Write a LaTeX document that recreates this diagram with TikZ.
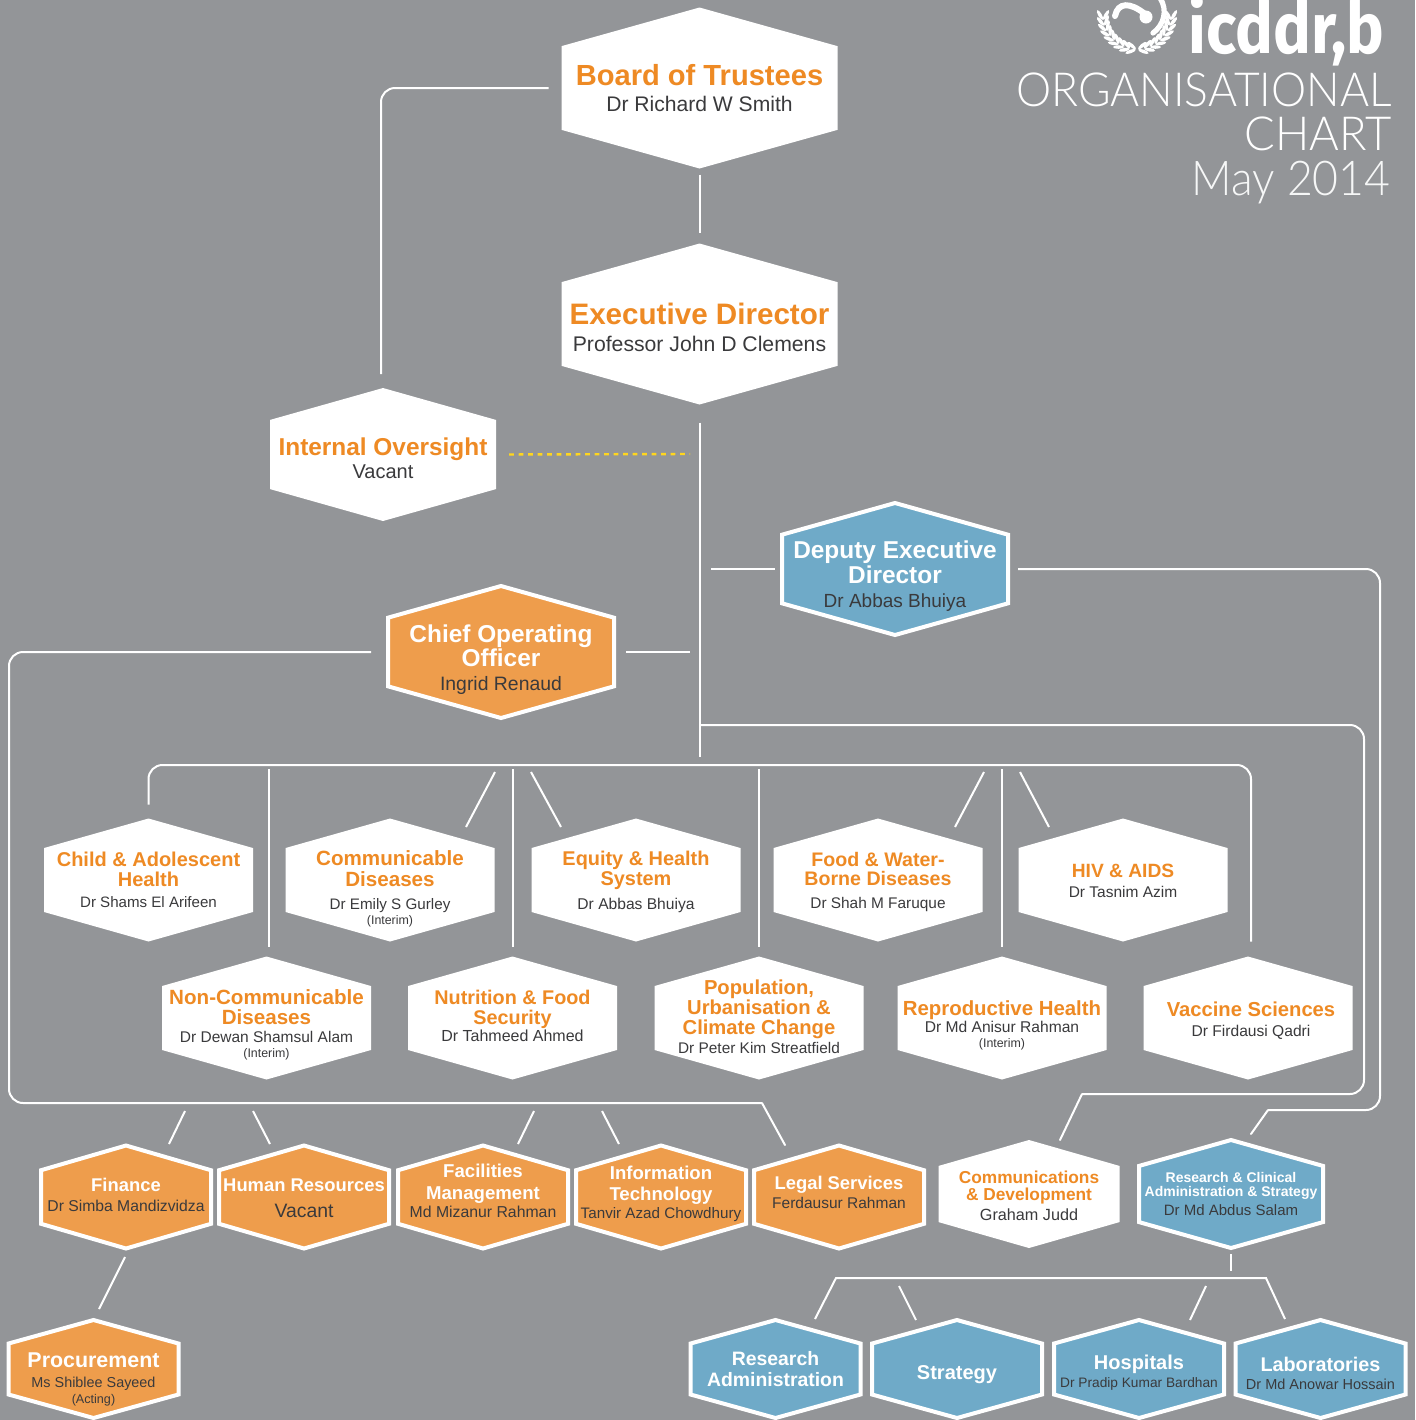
\documentclass[tikz,border=0pt]{standalone}
\usepackage{fontspec}
\usepackage{graphicx}
\setmainfont{Liberation Sans}
\newfontfamily\lightfont{Lato Light}
\newfontfamily\logofont{Fira Sans}

\definecolor{chartgrey}{HTML}{939598}
\definecolor{headorange}{HTML}{EE8A24}
\definecolor{fillorange}{HTML}{EE9D4C}
\definecolor{fillblue}{HTML}{6FAAC8}
\definecolor{dashyellow}{HTML}{FFD61E}
\definecolor{nametext}{HTML}{3A3A3C}

\newdimen\hexleft \newdimen\hexright \newdimen\hexlow \newdimen\hexhigh \newdimen\hexmid \newdimen\hexcut
\makeatletter
\pgfdeclareshape{hexa}{
  \inheritsavedanchors[from=rectangle]
  \inheritanchorborder[from=rectangle]
  \inheritanchor[from=rectangle]{center}
  \inheritanchor[from=rectangle]{north}
  \inheritanchor[from=rectangle]{south}
  \inheritanchor[from=rectangle]{east}
  \inheritanchor[from=rectangle]{west}
  \backgroundpath{
    \southwest \hexleft=\pgf@x \hexlow=\pgf@y
    \northeast \hexright=\pgf@x \hexhigh=\pgf@y
    \hexmid=.5\hexleft \advance\hexmid by .5\hexright
    \hexcut=\hexhigh \advance\hexcut by -\hexlow \hexcut=.24\hexcut
    \pgfpathmoveto{\pgfqpoint{\hexmid}{\hexhigh}}
    \pgfpathlineto{\pgfpoint{\hexright}{\hexhigh-\hexcut}}
    \pgfpathlineto{\pgfpoint{\hexright}{\hexlow+\hexcut}}
    \pgfpathlineto{\pgfqpoint{\hexmid}{\hexlow}}
    \pgfpathlineto{\pgfpoint{\hexleft}{\hexlow+\hexcut}}
    \pgfpathlineto{\pgfpoint{\hexleft}{\hexhigh-\hexcut}}
    \pgfpathclose
  }
}
\makeatother

\newcommand{\headorange}[2]{{\fontsize{#1}{#1}\selectfont\bfseries\color{headorange}#2\par}}
\newcommand{\headwhite}[2]{{\fontsize{#1}{#1}\selectfont\bfseries\color{white}#2\par}}
\newcommand{\whois}[3]{{\fontsize{#1}{#2}\selectfont #3\par}}
\newcommand{\remark}[1]{{\fontsize{6.2}{7.5}\selectfont #1\par}}
\newcommand{\pushdown}[1]{\par\vspace*{-#1pt}}
\newcommand{\pushup}[1]{\par\vspace*{#1pt}}

\tikzset{
  hexbase/.style={shape=hexa, inner sep=0pt, outer sep=0pt, align=flush center, text=nametext},
  plainhex/.style={hexbase, fill=white},
  orangehex/.style={hexbase, fill=fillorange, draw=white, line width=2pt},
  bluehex/.style={hexbase, fill=fillblue, draw=white, line width=2pt},
  topsize/.style={text width=138pt, minimum height=80.5pt},
  oversize/.style={text width=113pt, minimum height=66.5pt},
  officersize/.style={text width=113pt, minimum height=66pt},
  unitsize/.style={text width=104.5pt, minimum height=61.5pt},
  dutysize/.style={text width=85pt, minimum height=51.5pt},
  widesize/.style={text width=92pt, minimum height=54pt},
  lowsize/.style={text width=85pt, minimum height=49pt},
  linkline/.style={draw=white, line width=1pt},
  bendline/.style={linkline, rounded corners=7pt},
  stubline/.style={linkline, line cap=round},
  dotline/.style={draw=dashyellow, line width=1.2pt, dash pattern=on 2.4pt off 2.35pt},
  titletext/.style={anchor=base east, text=white, inner sep=0pt}
}

\begin{document}
\begin{tikzpicture}[x=.5pt, y=-.5pt]
  \clip (0,0) rectangle (1415,1420);
  \fill [chartgrey] (0,0) rectangle (1415,1420);

  % logo
  \foreach \t in {0,10,...,80} {
    \fill [white, shift={({1137-37*cos(\t)},{15+37*sin(\t)})}, rotate={-60+\t}] (0,0) ellipse [x radius=5.5, y radius=1.8];
    \fill [white, shift={({1137-31*cos(\t)},{15+31*sin(\t)})}, rotate={-120+\t}] (0,0) ellipse [x radius=5.5, y radius=1.8];
    \fill [white, shift={({1137+37*cos(\t)},{15+37*sin(\t)})}, rotate={60-\t}] (0,0) ellipse [x radius=5.5, y radius=1.8];
    \fill [white, shift={({1137+31*cos(\t)},{15+31*sin(\t)})}, rotate={120-\t}] (0,0) ellipse [x radius=5.5, y radius=1.8];
  }
  \draw [white, line width=3pt, line cap=round] (1115,16) .. controls (1118,2) and (1130,2) .. (1145,14);
  \fill [white] (1146,17) circle (6.5);
  \draw [white, line width=2.6pt, line cap=round] (1160,-2) .. controls (1168,10) and (1164,25) .. (1153,33);
  \node [anchor=base east, text=white, inner sep=0pt, font=\logofont\bfseries\fontsize{41}{41}\selectfont] (logotext) at (1385,53) {\scalebox{.77}[.87]{icddr,b}};

  % title
  \node [titletext, font=\lightfont\fontsize{23.5}{23.5}\selectfont] (orgtitle) at (1392,106) {\scalebox{.945}[1]{ORGANISATIONAL}};
  \node [titletext, font=\lightfont\fontsize{23.5}{23.5}\selectfont] (charttitle) at (1392,150) {\scalebox{.966}[1]{CHART}};
  \node [titletext, text=white!92!chartgrey, font=\lightfont\fontsize{24}{24}\selectfont] (datetitle) at (1391,195) {\scalebox{.93}[1]{May 2014}};

  % top of the chart
  \node [plainhex, topsize] (board) at (699.5,88) {\headorange{14.55}{Board of Trustees}\whois{10.55}{13}{Dr Richard W Smith}};
  \node [plainhex, topsize] (exec) at (699.5,324) {\headorange{14.8}{Executive Director}\whois{10.6}{13.5}{Professor John D Clemens}\pushdown{3.5}};
  \node [plainhex, oversize] (oversight) at (383,454.5) {\headorange{12.2}{Internal Oversight}\whois{10}{11.5}{Vacant}\pushdown{4}};
  \node [bluehex, officersize] (deputy) at (895,569) {\headwhite{12.2}{Deputy Executive\\Director}\whois{9.5}{12}{Dr Abbas Bhuiya}\pushdown{7}};
  \node [orangehex, officersize] (coo) at (501,652) {\headwhite{12.2}{Chief Operating\\Officer}\whois{9.7}{12}{Ingrid Renaud}\pushdown{7.5}};

  % first row of divisions
  \node [plainhex, unitsize] (child) at (148.5,880) {\headorange{10}{Child \& Adolescent\\Health}\whois{7.55}{10.5}{Dr Shams El Arifeen}};
  \node [plainhex, unitsize] (comm) at (390,880) {\headorange{10.3}{Communicable\\Diseases}\whois{7.6}{11.5}{Dr Emily S Gurley}\remark{(Interim)}\pushdown{9}};
  \node [plainhex, unitsize] (equity) at (636,880) {\headorange{9.95}{Equity \& Health\\System}\whois{7.8}{12}{Dr Abbas Bhuiya}\pushdown{2}};
  \node [plainhex, unitsize] (food) at (878,880) {\headorange{9.8}{Food \& Water-\\Borne Diseases}\whois{7.7}{11.5}{Dr Shah M Faruque}\pushdown{2}};
  \node [plainhex, unitsize] (hiv) at (1123,880) {\headorange{9.6}{HIV \& AIDS}\whois{7.75}{10}{Dr Tasnim Azim}\pushdown{1}};

  % second row of divisions
  \node [plainhex, unitsize] (noncomm) at (266.5,1018) {\headorange{10.3}{Non-Communicable\\Diseases}\whois{7.75}{9}{Dr Dewan Shamsul Alam}\remark{(Interim)}\pushdown{7}};
  \node [plainhex, unitsize] (nutrition) at (512.5,1018) {\headorange{9.9}{Nutrition \& Food\\Security}\whois{8}{8.5}{Dr Tahmeed Ahmed}\pushup{2}};
  \node [plainhex, unitsize] (population) at (759,1018) {\headorange{10.1}{Population,\\Urbanisation \&\\Climate Change}\whois{7.7}{9.5}{Dr Peter Kim Streatfield}\pushup{1.5}};
  \node [plainhex, unitsize] (repro) at (1002,1018) {\headorange{10.2}{Reproductive Health}\whois{7.8}{8.5}{Dr Md Anisur Rahman}\remark{(Interim)}\pushdown{7}};
  \node [plainhex, unitsize] (vaccine) at (1248,1018) {\headorange{10.1}{\hspace*{3pt}Vaccine Sciences}\whois{7.8}{10}{\hspace*{3pt}Dr Firdausi Qadri}\pushdown{3}};

  % operations row
  \node [orangehex, dutysize] (finance) at (126,1197) {\headwhite{9.2}{Finance}\whois{7.85}{10}{Dr Simba Mandizvidza}\pushup{2}};
  \node [orangehex, dutysize] (hr) at (304,1197) {\headwhite{9.2}{Human Resources}\whois{9.7}{13}{Vacant}\pushdown{1}};
  \node [orangehex, dutysize] (facilities) at (483,1197) {\headwhite{9.3}{Facilities\\[1.5pt]Management}\whois{7.9}{9}{Md Mizanur Rahman}\pushup{6}};
  \node [orangehex, dutysize] (it) at (661,1197) {\headwhite{9.3}{Information\\[1.5pt]Technology}\whois{7.6}{9}{Tanvir Azad Chowdhury}\pushup{3}};
  \node [orangehex, dutysize] (legal) at (839,1197) {\headwhite{9.2}{Legal Services}\whois{7.75}{9.5}{Ferdausur Rahman}\pushup{5}};
  \node [plainhex, text width=90.5pt, minimum height=54pt] (commdev) at (1029,1194) {\headorange{8.65}{Communications\\\& Development}\whois{8.1}{10}{Graham Judd}\pushdown{1.5}};
  \node [bluehex, widesize] (rcas) at (1231,1194) {\headwhite{7}{Research \& Clinical\\Administration \& Strategy}\whois{7.5}{9.5}{Dr Md Abdus Salam}};

  % bottom row
  \node [orangehex, lowsize] (procure) at (93.5,1369) {\headwhite{10.7}{Procurement}\whois{7.2}{10}{Ms Shiblee Sayeed}{\fontsize{6.3}{8}\selectfont (Acting)\par}\pushdown{10}};
  \node [bluehex, lowsize] (resadmin) at (775.5,1369) {\headwhite{9.7}{Research\\[1pt]Administration}};
  \node [bluehex, lowsize] (strategy) at (957,1369) {\headwhite{10}{\rule{0pt}{12.3pt}Strategy}};
  \node [bluehex, lowsize] (hospitals) at (1139,1369) {\headwhite{10}{Hospitals}\whois{6.85}{9}{Dr Pradip Kumar Bardhan}\pushdown{4}};
  \node [bluehex, lowsize] (labs) at (1320.5,1369) {\headwhite{9.9}{Laboratories}\whois{7.25}{9}{Dr Md Anowar Hossain}\pushdown{4}};

  % free ends of the connectors
  \coordinate (trunkend) at (700,757);
  \coordinate (trunkjoin) at (700,725);
  \coordinate (overend) at (690,454);
  \coordinate (deputyend) at (711,569);
  \coordinate (cooend) at (690,652);
  \coordinate (bustop) at (700,765);
  \coordinate (ncdrop) at (269,769);
  \coordinate (nfdrop) at (513,769);
  \coordinate (popdrop) at (759,769);
  \coordinate (repdrop) at (1002,769);
  \coordinate (commtop) at (495,772);
  \coordinate (commlow) at (466,827);
  \coordinate (equitytop) at (531,772);
  \coordinate (equitylow) at (561,827);
  \coordinate (foodtop) at (984,772);
  \coordinate (foodlow) at (955,827);
  \coordinate (hivtop) at (1020,772);
  \coordinate (hivlow) at (1049,827);
  \coordinate (rightone) at (1364,725);
  \coordinate (rightonelow) at (1364,1094);
  \coordinate (bendone) at (1082,1094);
  \coordinate (commdevlow) at (1060,1140);
  \coordinate (righttwo) at (1380,569);
  \coordinate (righttwolow) at (1380,1110);
  \coordinate (bendtwo) at (1268,1110);
  \coordinate (rcaslow) at (1251,1134);
  \coordinate (leftside) at (9,652);
  \coordinate (leftlow) at (9,1103);
  \coordinate (bendthree) at (762,1103);
  \coordinate (legallow) at (785,1145);
  \coordinate (finatop) at (185,1111);
  \coordinate (finalow) at (169,1144);
  \coordinate (hrtop) at (253,1111);
  \coordinate (hrlow) at (270,1144);
  \coordinate (factop) at (534,1111);
  \coordinate (faclow) at (518,1144);
  \coordinate (ittop) at (602,1111);
  \coordinate (itlow) at (619,1144);
  \coordinate (procuretop) at (125,1257);
  \coordinate (procurelow) at (99,1309);
  \coordinate (lowbusa) at (836,1278);
  \coordinate (lowbusb) at (1266,1278);
  \coordinate (resadminlow) at (815,1319);
  \coordinate (labslow) at (1285,1319);
  \coordinate (strattop) at (899,1286);
  \coordinate (stratlow) at (916,1320);
  \coordinate (hosptop) at (1206,1286);
  \coordinate (hosplow) at (1190,1320);

  % connectors
  \draw [bendline, shorten <=6.5pt, shorten >=7pt] (board.west) -| ([xshift=-1pt]oversight.north);
  \draw [linkline, shorten <=3pt, shorten >=5.5pt] (board.south) -- (exec.north);
  \draw [linkline, shorten <=9pt] ([xshift=.25pt]exec.south) -- (trunkend);
  \draw [dotline, shorten <=6.5pt] (oversight.east) -- (overend);
  \draw [linkline, shorten >=3.5pt] (deputyend) -- (deputy.west);
  \draw [linkline, shorten <=6pt] (coo.east) -- (cooend);
  \draw [bendline, shorten <=5pt] (deputy.east) -- (righttwo) -- (righttwolow) -- (bendtwo);
  \draw [stubline] (bendtwo) -- (rcaslow);
  \draw [bendline, shorten <=8.5pt] (coo.west) -- (leftside) -- (leftlow) -- (bendthree);
  \draw [stubline] (bendthree) -- (legallow);
  \draw [bendline] (trunkjoin) -- (rightone) -- (rightonelow) -- (bendone);
  \draw [stubline] (bendone) -- (commdevlow);

  % division bus
  \draw [bendline] ([yshift=7pt]child.north) |- (bustop) -| ([xshift=1.5pt,yshift=7.5pt]vaccine.north);
  \draw [linkline, shorten >=5pt] (ncdrop) -- (ncdrop |- noncomm.north);
  \draw [linkline, shorten >=5pt] (nfdrop) -- (nfdrop |- nutrition.north);
  \draw [linkline, shorten >=5pt] (popdrop) -- (popdrop |- population.north);
  \draw [linkline, shorten >=5pt] (repdrop) -- (repdrop |- repro.north);
  \draw [linkline] (commtop) -- (commlow);
  \draw [linkline] (equitytop) -- (equitylow);
  \draw [linkline] (foodtop) -- (foodlow);
  \draw [linkline] (hivtop) -- (hivlow);

  % operations stubs
  \draw [linkline] (finatop) -- (finalow);
  \draw [linkline] (hrtop) -- (hrlow);
  \draw [linkline] (factop) -- (faclow);
  \draw [linkline] (ittop) -- (itlow);
  \draw [linkline] (procuretop) -- (procurelow);

  % research bus
  \draw [linkline, shorten <=3pt, shorten >=3.5pt] (rcas.south) -- (rcas.south |- lowbusa);
  \draw [linkline] (resadminlow) -- (lowbusa) -- (lowbusb) -- (labslow);
  \draw [linkline] (strattop) -- (stratlow);
  \draw [linkline] (hosptop) -- (hosplow);
\end{tikzpicture}
\end{document}
